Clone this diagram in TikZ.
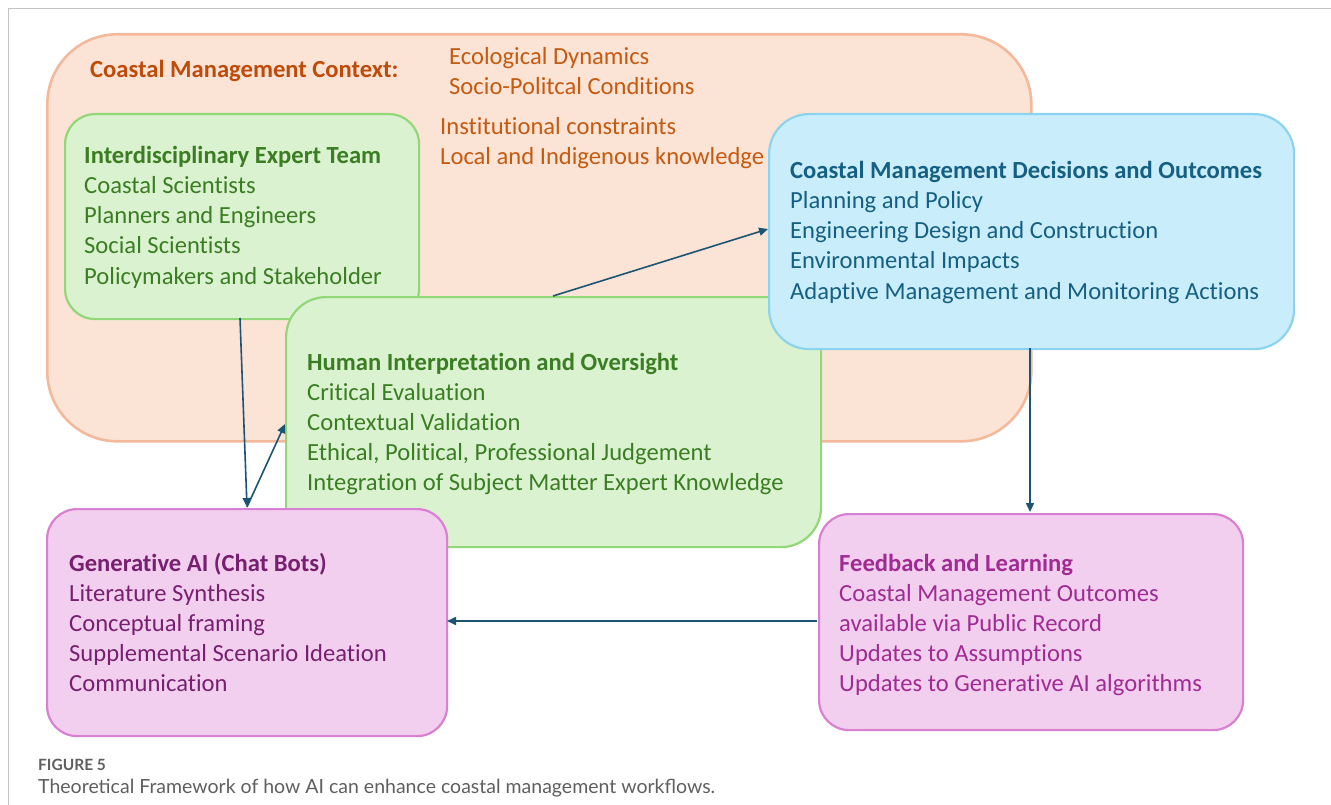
\documentclass[tikz,border=0pt]{standalone}
\usepackage{fontspec}
\setmainfont[Ligatures=NoCommon]{Carlito}
\newfontfamily\capfont{Lato}
\usetikzlibrary{arrows.meta}

\definecolor{ctxfill}{RGB}{251,228,214}
\definecolor{ctxline}{RGB}{244,185,155}
\definecolor{ctxtext}{RGB}{197,90,17}
\definecolor{ctxhead}{RGB}{190,75,10}
\definecolor{grnfill}{RGB}{218,242,208}
\definecolor{grnline}{RGB}{146,215,120}
\definecolor{grntext}{RGB}{59,125,35}
\definecolor{blufill}{RGB}{202,237,251}
\definecolor{bluline}{RGB}{140,211,240}
\definecolor{blutext}{RGB}{21,96,130}
\definecolor{pnkfill}{RGB}{242,207,238}
\definecolor{pnkline}{RGB}{217,128,210}
\definecolor{gentext}{RGB}{120,32,112}
\definecolor{fbtext}{RGB}{160,43,147}
\definecolor{arrcol}{RGB}{28,84,115}
\definecolor{framecol}{RGB}{195,195,195}
\definecolor{captext}{RGB}{95,95,95}

\tikzset{
  panel/.style={draw, line width=2.2pt, anchor=north west, inner sep=0pt},
  line/.style={anchor=base west, inner sep=0pt, font=\fontsize{24.6}{28}\selectfont},
  head/.style={line, font=\fontsize{24.6}{28}\selectfont\bfseries},
  flow/.style={draw=arrcol, line width=1.6pt, -{Triangle[length=9pt,width=8pt]}},
}

\begin{document}
\begin{tikzpicture}[x=1pt,y=-1pt]
\useasboundingbox (0,0) rectangle (1331,805);
\fill[white] (0,0) rectangle (1331,805);

% page frame
\coordinate (fTL) at (8,9);
\coordinate (fTR) at (1331,9);
\coordinate (fBL) at (8,805);
\draw[framecol, line width=1pt] (fTR) -- (fTL) -- (fBL);

% context panel and its labels
\node[panel, draw=ctxline, fill=ctxfill, line width=2.6pt, rounded corners=70pt,
      minimum width=984pt, minimum height=407pt] (ctx) at (46,33) {};
\node[head, text=ctxhead] (ctxh) at (90,78) {Coastal Management Context:};
\node[line, text=ctxtext] (ctx1) at (449,65) {Ecological Dynamics};
\node[line, text=ctxtext] (ctx2) at (449,95) {Socio-Politcal Conditions};
\node[line, text=ctxtext] (ctx3) at (440,135) {Institutional constraints};
\node[line, text=ctxtext] (ctx4) at (440,165) {Local and Indigenous knowledge};

% interdisciplinary expert team
\node[panel, draw=grnline, fill=grnfill, rounded corners=30pt,
      minimum width=354pt, minimum height=205pt] (team) at (64,113) {};
\node[head, text=grntext] (teamh) at (84,164) {Interdisciplinary Expert Team};
\foreach \t [count=\i] in {Coastal Scientists, Planners and Engineers,
    Social Scientists, Policymakers and Stakeholder}
  \node[line, text=grntext] (team\i) at (84,{164+30*\i}) {\t};

% human interpretation and oversight
\node[panel, draw=grnline, fill=grnfill, rounded corners=40pt,
      minimum width=535pt, minimum height=250pt] (human) at (285,296) {};
\node[head, text=grntext] (humanh) at (307,370) {Human Interpretation and Oversight};
\foreach \t [count=\i] in {Critical Evaluation, Contextual Validation,
    {Ethical, Political, Professional Judgement},
    Integration of Subject Matter Expert Knowledge}
  \node[line, text=grntext] (human\i) at (307,{370+30*\i}) {\t};

% decisions and outcomes
\node[panel, draw=bluline, fill=blufill, rounded corners=40pt,
      minimum width=525pt, minimum height=235pt] (dec) at (768,113) {};
\node[head, text=blutext] (dech) at (790,179) {Coastal Management Decisions and Outcomes};
\foreach \t [count=\i] in {Planning and Policy, Engineering Design and Construction,
    Environmental Impacts, Adaptive Management and Monitoring Actions}
  \node[line, text=blutext] (dec\i) at (790,{179+30*\i}) {\t};

% generative AI
\node[panel, draw=pnkline, fill=pnkfill, rounded corners=30pt,
      minimum width=400pt, minimum height=227pt] (gen) at (46,508) {};
\node[head, text=gentext] (genh) at (69,571) {Generative AI (Chat Bots)};
\foreach \t [count=\i] in {Literature Synthesis, Conceptual framing,
    Supplemental Scenario Ideation, Communication}
  \node[line, text=gentext] (gen\i) at (69,{571+30*\i}) {\t};

% feedback and learning
\node[panel, draw=pnkline, fill=pnkfill, rounded corners=30pt,
      minimum width=424pt, minimum height=216pt] (fb) at (818,513) {};
\node[head, text=fbtext] (fbh) at (839,571) {Feedback and Learning};
\foreach \t [count=\i] in {Coastal Management Outcomes, available via Public Record,
    Updates to Assumptions, Updates to Generative AI algorithms}
  \node[line, text=fbtext] (fb\i) at (839,{571+30*\i}) {\t};

% connectors
\coordinate (teamOut) at (240,318);
\coordinate (genIn) at (247,507);
\coordinate (humanIn) at (285,424);
\coordinate (humanOut) at (553,296);
\coordinate (decIn) at (768,229);
\coordinate (decOut) at (1030,348);
\coordinate (fbIn) at (1030,512);
\coordinate (fbOut) at (817,621);
\coordinate (genRight) at (447,621);
\draw[flow] (teamOut) -- (genIn);
\draw[flow] (genIn) -- (humanIn);
\draw[flow] (humanOut) -- (decIn);
\draw[flow] (decOut) -- (fbIn);
\draw[flow] (fbOut) -- (genRight);

% caption
\node[anchor=base west, inner sep=0pt, text=captext,
      font=\capfont\fontsize{15.5}{18}\selectfont\bfseries] (capnum) at (38,770) {FIGURE 5};
\node[anchor=base west, inner sep=0pt, text=captext,
      font=\capfont\fontsize{19.5}{22}\selectfont] (captxt) at (38,793)
      {Theoretical Framework of how AI can enhance coastal management workflows.};
\end{tikzpicture}
\end{document}
